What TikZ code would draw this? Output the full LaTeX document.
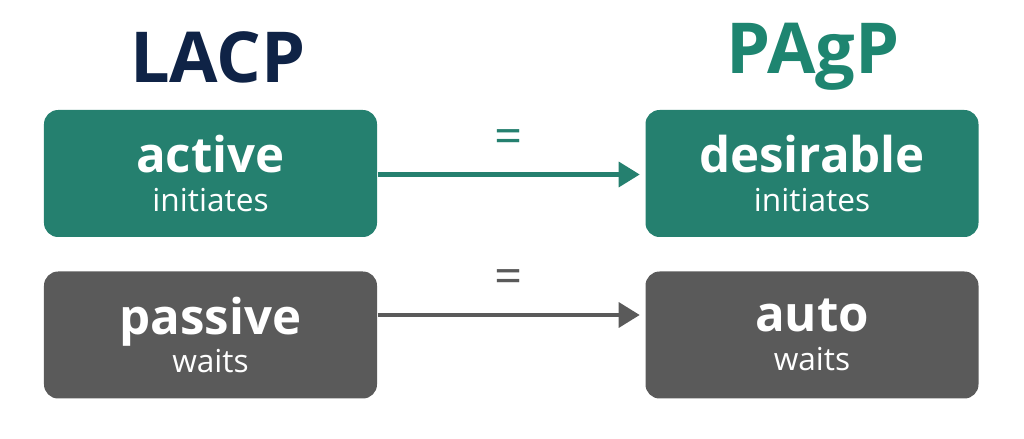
\documentclass[tikz,border=0pt]{standalone}
\usepackage{fontspec}
\setmainfont{Open Sans}
\usetikzlibrary{positioning, arrows.meta}
\definecolor{tealbox}{HTML}{25806F}
\definecolor{graybox}{HTML}{5A5A5A}
\definecolor{navy}{HTML}{0F2346}
\definecolor{tealtext}{HTML}{1E8570}
\tikzstyle{mode} = [rectangle, rounded corners=4pt, minimum width=3.33cm, minimum height=1.27cm, text centered, text=white, align=center, inner sep=0pt]
\tikzstyle{arrow} = [line width=1.3pt, -{Triangle[length=6pt, width=7pt]}]

\begin{document}
\begin{tikzpicture}[x=1cm, y=-1cm]
        \useasboundingbox (0,0) rectangle (10.24,4.39);

        \node (lacp) at (2.18,0.57) [text=navy] {\fontsize{20}{22}\selectfont\bfseries LACP};
        \node (pagp) at (8.13,0.57) [text=tealtext] {\fontsize{20}{22}\selectfont\bfseries PAgP};

        \node (active) at (2.105,1.735) [mode, fill=tealbox] {
            {\fontsize{14}{16}\selectfont\bfseries active}\\[-1pt]{\fontsize{9}{11}\selectfont initiates}
        };
        \node (desirable) at (8.12,1.735) [mode, fill=tealbox] {
            {\fontsize{14}{16}\selectfont\bfseries desirable}\\[-1pt]{\fontsize{9}{11}\selectfont initiates}
        };

        \node (passive) at (2.105,3.35) [mode, fill=graybox] {
            {\fontsize{14}{16}\selectfont\bfseries passive}\\[-1pt]{\fontsize{9}{11}\selectfont waits}
        };
        \node (auto) at (8.12,3.35) [mode, fill=graybox] {
            {\fontsize{14}{16}\selectfont\bfseries auto}\\[-1pt]{\fontsize{9}{11}\selectfont waits}
        };

        \draw [arrow, tealbox] ([yshift=-0.01cm]active.east) -- ([xshift=-0.05cm, yshift=-0.01cm]desirable.west)
            node [midway, above=2pt, text=tealbox] {\fontsize{14}{16}\selectfont =};
        \draw [arrow, graybox] ([yshift=0.2cm]passive.east) -- ([xshift=-0.05cm, yshift=0.2cm]auto.west)
            node [midway, above=2pt, text=graybox] {\fontsize{14}{16}\selectfont =};
    \end{tikzpicture}
\end{document}
